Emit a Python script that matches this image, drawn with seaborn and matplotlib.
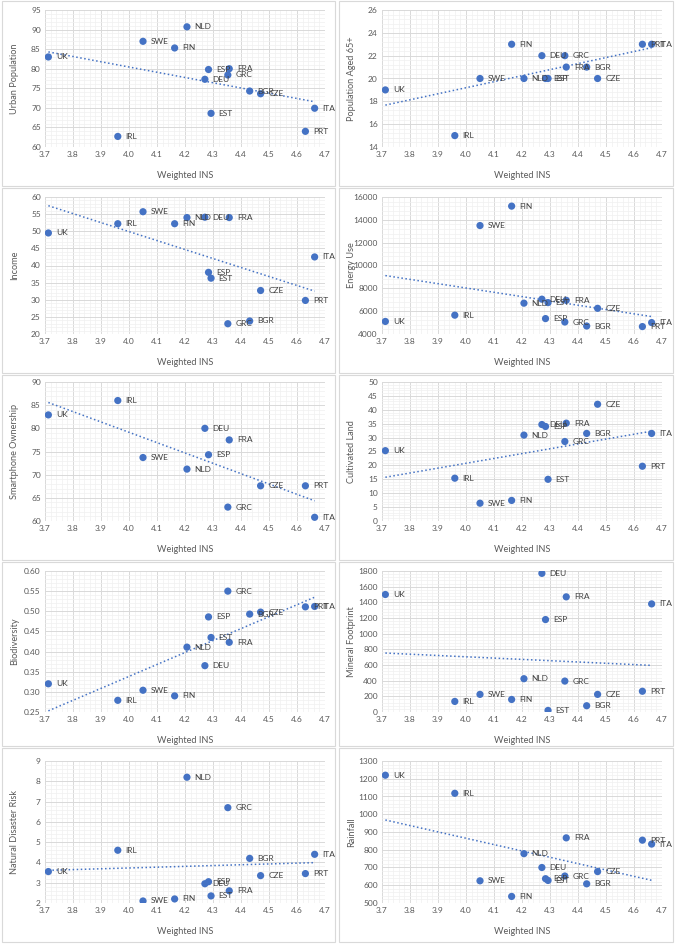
import numpy as np
import pandas as pd
import matplotlib.pyplot as plt
import seaborn as sns
from matplotlib.ticker import MultipleLocator, AutoMinorLocator, FormatStrFormatter
from matplotlib.patches import Rectangle

# --- data (None = no data for that country) ---
countries = ['UK', 'IRL', 'SWE', 'FIN', 'NLD', 'DEU', 'ESP', 'EST', 'GRC', 'FRA', 'BGR', 'CZE', 'PRT', 'ITA']
weighted_ins = [3.712, 3.96, 4.05, 4.163, 4.207, 4.271, 4.284, 4.293, 4.353, 4.358, 4.431, 4.47, 4.63, 4.663]

urban_population = [83.0, 62.7, 87.0, 85.3, 90.7, 77.3, 79.8, 68.6, 78.4, 80.0, 74.3, 73.6, 64.0, 69.9]
population_65 = [19, 15, 20, 23, 20, 22, 20, 20, 22, 21, 21, 20, 23, 23]
income = [49.5, 52.2, 55.7, 52.2, 54.0, 54.1, 38.0, 36.3, 23.0, 54.0, 23.8, 32.7, 29.8, 42.5]
energy_use = [5100, 5650, 13500, 15200, 6700, 7050, 5350, 6750, 5050, 6950, 4700, 6250, 4650, 5000]
smartphone = [82.9, 86.0, 73.7, None, 71.2, 80.0, 74.3, None, 63.0, 77.5, None, 67.6, 67.6, 60.8]
cultivated_land = [25.3, 15.4, 6.4, 7.4, 30.9, 34.7, 34.0, 15.0, 28.6, 35.2, 31.5, 42.0, 19.7, 31.5]
biodiversity = [0.320, 0.279, 0.304, 0.290, 0.411, 0.365, 0.486, 0.435, 0.550, 0.423, 0.493, 0.498, 0.511, 0.512]
mineral_footprint = [1500, 135, 225, 160, 425, 1770, 1180, 20, 395, 1470, 80, 225, 265, 1380]
disaster_risk = [3.55, 4.6, 2.1, 2.2, 8.2, 2.95, 3.05, 2.35, 6.7, 2.6, 4.2, 3.35, 3.45, 4.4]
rainfall = [1220, 1118, 625, 537, 778, 700, 637, 627, 652, 867, 608, 677, 854, 832]

panels = [
    ('Urban Population', urban_population, 60, 95, 5, '%d'),
    ('Population Aged 65+', population_65, 14, 26, 2, '%d'),
    ('Income', income, 20, 60, 5, '%d'),
    ('Energy Use', energy_use, 4000, 16000, 2000, '%d'),
    ('Smartphone Ownership', smartphone, 60, 90, 5, '%d'),
    ('Cultivated Land', cultivated_land, 0, 50, 5, '%d'),
    ('Biodiversity', biodiversity, 0.25, 0.60, 0.05, '%.2f'),
    ('Mineral Footprint', mineral_footprint, 0, 1800, 200, '%d'),
    ('Natural Disaster Risk', disaster_risk, 2, 9, 1, '%d'),
    ('Rainfall', rainfall, 500, 1300, 100, '%d'),
]

# --- layout in pixels (Excel-like grid of charts) ---
W, H = 675, 944
COL_LEFT = [45, 382]
AX_W = 280
ROWS = [(10, 147), (197, 334), (382, 521), (571, 712), (761, 903)]
BORDER_COLS = [(2, 335), (339, 673)]
BORDER_ROWS = [(1, 186), (188, 373), (375, 560), (562, 746), (748, 942)]

BLUE = '#4472C4'
TEXT = '#595959'

sns.set_theme(style='white')
plt.rcParams['font.family'] = ['Lato', 'DejaVu Sans']

fig = plt.figure(figsize=(W / 100, H / 100), dpi=100)

for i, (name, values, ymin, ymax, ystep, fmt) in enumerate(panels):
    r, c = divmod(i, 2)
    top, bottom = ROWS[r]
    h = bottom - top

    # chart border
    bx0, bx1 = BORDER_COLS[c]
    by0, by1 = BORDER_ROWS[r]
    fig.add_artist(Rectangle((bx0 / W, 1 - by1 / H), (bx1 - bx0) / W, (by1 - by0) / H,
                             transform=fig.transFigure, fill=False, ec='#D9D9D9', lw=0.8))

    ax = fig.add_axes([COL_LEFT[c] / W, 1 - bottom / H, AX_W / W, h / H])

    df = pd.DataFrame({'country': countries, 'ins': weighted_ins, 'val': values}).dropna()

    sns.regplot(data=df, x='ins', y='val', scatter=False, ci=None, truncate=True, ax=ax,
                line_kws=dict(color=BLUE, ls=':', lw=1.1, zorder=2))
    sns.scatterplot(data=df, x='ins', y='val', ax=ax, color=BLUE, s=27, edgecolor='none', zorder=3)

    for _, row in df.iterrows():
        ax.annotate(row['country'], (row['ins'], row['val']), xytext=(5.5, 0), textcoords='offset points',
                    va='center', ha='left', fontsize=6, color='#404040', zorder=4)

    ax.set_xlim(3.7, 4.7)
    ax.set_ylim(ymin, ymax)
    ax.xaxis.set_major_locator(MultipleLocator(0.1))
    ax.xaxis.set_minor_locator(AutoMinorLocator(5))
    ax.xaxis.set_major_formatter(FormatStrFormatter('%.1f'))
    ax.yaxis.set_major_locator(MultipleLocator(ystep))
    ax.yaxis.set_minor_locator(AutoMinorLocator(5))
    ax.yaxis.set_major_formatter(FormatStrFormatter(fmt))

    ax.grid(which='major', color='#D9D9D9', lw=0.7)
    ax.grid(which='minor', color='#F0F0F0', lw=0.5)
    ax.set_axisbelow(True)
    for s in ax.spines.values():
        s.set_visible(False)
    ax.tick_params(which='both', length=0, labelsize=6, labelcolor=TEXT, pad=3)

    ax.set_xlabel('Weighted INS', fontsize=6.6, color=TEXT)
    ax.set_ylabel(name, fontsize=6.6, color=TEXT)
    ax.xaxis.set_label_coords(0.5, -24 / h)
    ax.yaxis.set_label_coords(-26 / AX_W, 0.5)

fig.savefig('out.png', dpi=100)
